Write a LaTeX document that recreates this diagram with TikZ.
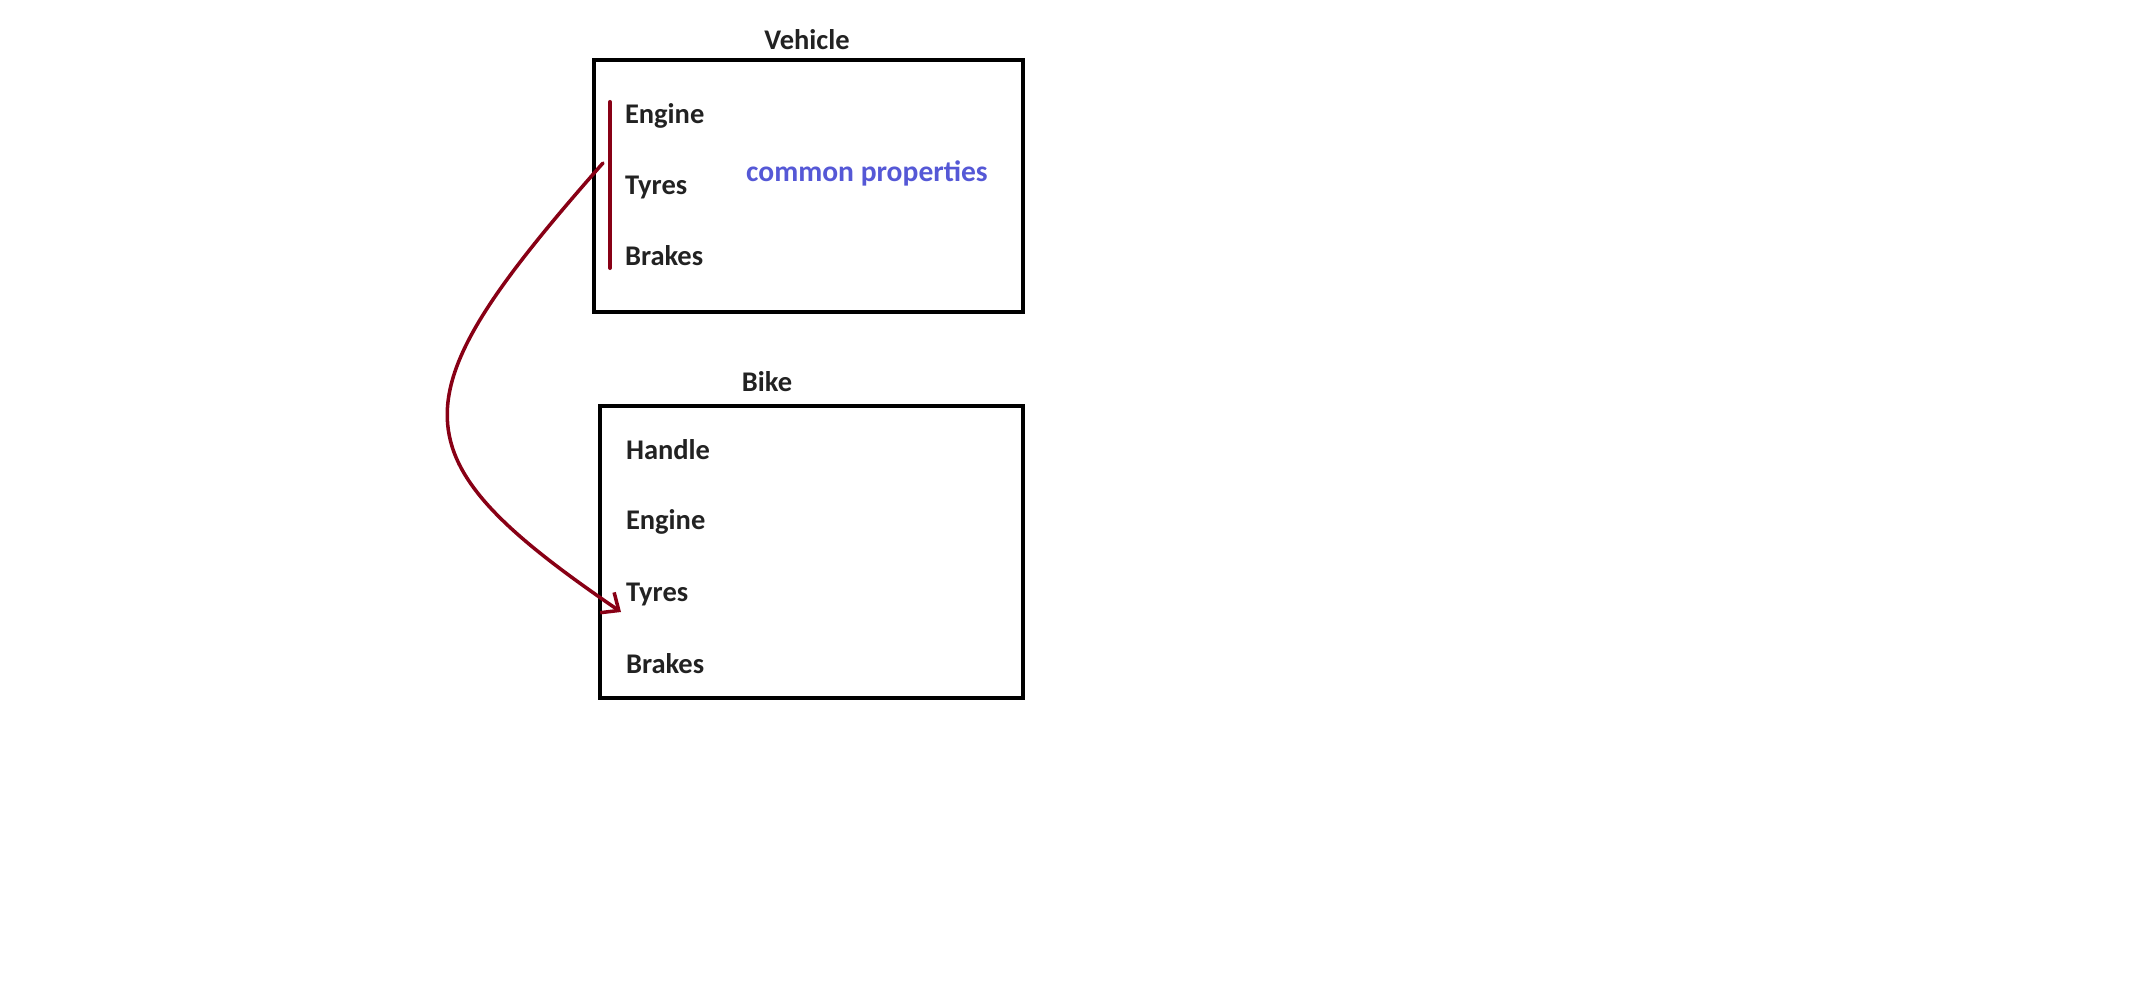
\documentclass[tikz,border=0pt]{standalone}
\usepackage{fontspec}
\setmainfont{Carlito}
\usetikzlibrary{positioning, arrows.meta}
\definecolor{vhred}{HTML}{880015}
\definecolor{vhblue}{HTML}{5558D6}
\definecolor{vhtext}{HTML}{222222}

\begin{document}
\begin{tikzpicture}[x=0.01cm, y=-0.01cm, line width=1.15pt,
    box/.style={draw=black, inner sep=0pt},
    item/.style={anchor=base west, inner sep=0pt, text=vhtext,
      font=\fontsize{8.1}{9}\selectfont\bfseries},
    title/.style={anchor=base, inner sep=0pt, text=vhtext,
      font=\fontsize{8.1}{9}\selectfont\bfseries}]
    \useasboundingbox (0,0) rectangle (2156,997);
    % the two boxes
    \node[box, minimum width=4.29cm, minimum height=2.52cm] (vehicle) at (808.5,186) {};
    \node[box, minimum width=4.23cm, minimum height=2.92cm] (bike) at (811.5,552) {};
    \node[title] (vtitle) at (807,50) {Vehicle};
    \node[title] (btitle) at (767,392) {Bike};
    % their properties
    \foreach \y/\txt in {124/Engine,195/Tyres,266/Brakes}{
      \node[item] (v\txt) at (623,\y) {\txt};}
    \foreach \y/\txt in {459/Handle,530/Engine,602/Tyres,673/Brakes}{
      \node[item] (b\txt) at (624,\y) {\txt};}
    \node[title, text=vhblue, font=\fontsize{8.4}{9}\selectfont\bfseries]
      (common) at (867,182) {common properties};
    % bracket and arrow
    \draw[vhred, line cap=round] (610,102) -- (610,268);
    \coordinate (cstart) at (603,163);
    \coordinate (cend) at (621,612);
    \draw[vhred, line width=1pt, line cap=round,
      -{Straight Barb[length=4pt,width=7pt]}]
      (cstart) .. controls (393,401) and (393,456) .. (cend);
\end{tikzpicture}
\end{document}
